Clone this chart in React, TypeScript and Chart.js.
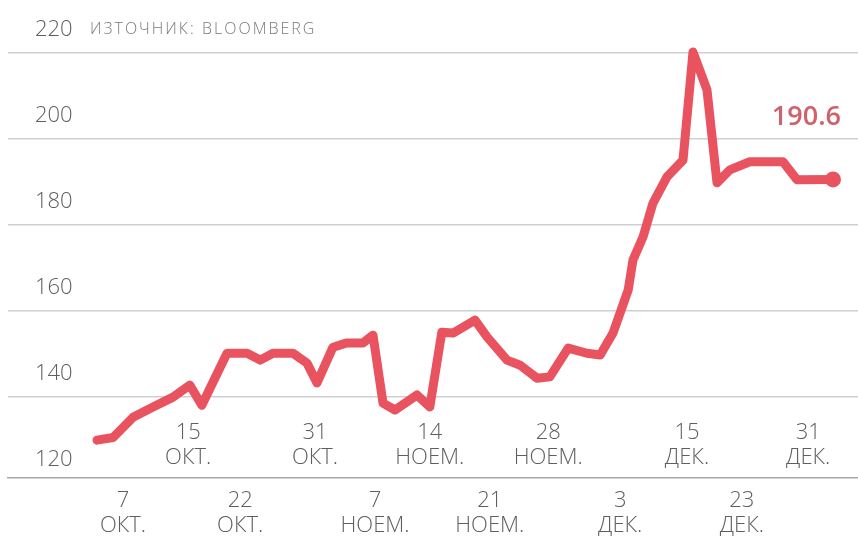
import React, { useEffect, useRef } from "react";
import { Chart, registerables } from "chart.js";

Chart.register(...registerables);

// Position along the period (one unit ≈ one calendar day)
const days = [
  0, 2, 4.5, 7, 9.5, 11.6, 13.1, 16.25, 18.75, 20.4, 22, 24.5, 26.25, 27.5,
  29.5, 31.25, 33.25, 34.5, 35.75, 37.25, 40, 41.6, 43.1, 44.5, 47.25, 48.75,
  51.25, 52.9, 55, 56.6, 58.9, 61.25, 62.9, 64.5, 66.4, 67, 68.25, 69.5,
  71.25, 73.25, 74.5, 76.25, 77.5, 79.1, 81.6, 85.75, 87.5, 92,
];
const values = [
  130, 130.6, 135.3, 137.7, 140, 142.8, 138.1, 150.2, 150.2, 148.6, 150.2,
  150.2, 147.9, 143.3, 151.6, 152.6, 152.6, 154.4, 138.6, 137, 140.5, 137.7,
  155.1, 154.9, 157.9, 154, 148.6, 147.4, 144.4, 144.7, 151.4, 150.2, 149.8,
  154.9, 164.9, 171.9, 177.2, 185.1, 191.2, 195.1, 220.2, 211.4, 189.8, 192.8,
  194.7, 194.7, 190.5, 190.6,
];

const yTicks = [120, 140, 160, 180, 200, 220];

const tickDays = [3.25, 11.4, 17.9, 27.25, 34.75, 41.6, 49.1, 56.4, 65.4, 73.75, 80.6, 88.9];
const tickDayNums = ["7", "15", "22", "31", "7", "14", "21", "28", "3", "15", "23", "31"];
const tickMonths = ["ОКТ.", "ОКТ.", "ОКТ.", "ОКТ.", "НОЕМ.", "НОЕМ.", "НОЕМ.", "НОЕМ.", "ДЕК.", "ДЕК.", "ДЕК.", "ДЕК."];

const sourceText = "ИЗТОЧНИК: BLOOMBERG";
const lastLabel = "190.6";

const LINE = "#e8535f";
const TEXT = "#5e5e5e";
const FONT = "'Open Sans', 'DejaVu Sans', sans-serif";

const labelsPlugin = {
  id: "customLabels",
  afterDraw(chart: any) {
    const ctx = chart.ctx as CanvasRenderingContext2D;
    const x = chart.scales.x;
    const y = chart.scales.y;
    ctx.save();
    // y tick labels, above their grid lines
    ctx.fillStyle = TEXT;
    ctx.font = `300 22px ${FONT}`;
    ctx.textAlign = "left";
    ctx.textBaseline = "middle";
    yTicks.forEach((v) => {
      ctx.fillText(String(v), 35, y.getPixelForValue(v) - 23);
    });
    // source
    ctx.font = `300 16px ${FONT}`;
    ctx.fillStyle = "#7a7a7a";
    (ctx as any).letterSpacing = "2px";
    ctx.fillText(sourceText, 90, y.getPixelForValue(220) - 23);
    (ctx as any).letterSpacing = "0px";
    // x labels, alternating rows
    const base = chart.chartArea.bottom;
    ctx.textAlign = "center";
    ctx.fillStyle = TEXT;
    ctx.font = `300 22px ${FONT}`;
    tickDays.forEach((d, i) => {
      const px = x.getPixelForValue(d);
      const upper = i % 2 === 1;
      const dy = upper ? base - 45 : base + 23;
      ctx.fillText(tickDayNums[i], px, dy);
      ctx.fillText(tickMonths[i], px, dy + 25);
    });
    // last value label
    const lx = x.getPixelForValue(days[days.length - 1]);
    const ly = y.getPixelForValue(values[values.length - 1]);
    ctx.textAlign = "right";
    ctx.font = `600 27px ${FONT}`;
    ctx.fillStyle = "#d0606a";
    ctx.fillText(lastLabel, lx + 8, ly - 62);
    ctx.restore();
  },
};

export default function App() {
  const ref = useRef<HTMLCanvasElement | null>(null);
  useEffect(() => {
    if (!ref.current) return;
    const chart = new Chart(ref.current, {
      type: "line",
      data: {
        datasets: [
          {
            data: days.map((d, i) => ({ x: d, y: values[i] })),
            borderColor: LINE,
            backgroundColor: LINE,
            borderWidth: 9,
            borderCapStyle: "round",
            borderJoinStyle: "round",
            tension: 0,
            pointRadius: (c: any) => (c.dataIndex === values.length - 1 ? 8 : 0),
            pointBorderWidth: 0,
            pointBackgroundColor: LINE,
            clip: false,
          } as any,
        ],
      },
      options: {
        animation: false,
        responsive: true,
        maintainAspectRatio: false,
        layout: { autoPadding: false, padding: { left: 8, right: 0, top: 0, bottom: 58 } },
        plugins: { legend: { display: false }, tooltip: { enabled: false } },
        scales: {
          x: {
            type: "linear",
            min: -11.125,
            max: 95.125,
            ticks: { display: false },
            grid: { display: false, drawTicks: false },
            border: { display: true, color: "#a8a8a8", width: 1.5 },
          },
          y: {
            type: "linear",
            min: 121.2,
            max: 232.3,
            ticks: { display: false },
            afterBuildTicks: (s: any) => {
              s.ticks = yTicks.filter((v) => v > 121.2).map((v) => ({ value: v }));
            },
            grid: { color: "#cfcfcf", lineWidth: 1.5, drawTicks: false },
            border: { display: false },
          },
        },
      },
      plugins: [labelsPlugin],
    } as any);
    return () => chart.destroy();
  }, []);
  return (
    <div style={{ position: "fixed", left: 0, top: 0, width: 858, height: 536, background: "#fff" }}>
      <canvas ref={ref} />
    </div>
  );
}
